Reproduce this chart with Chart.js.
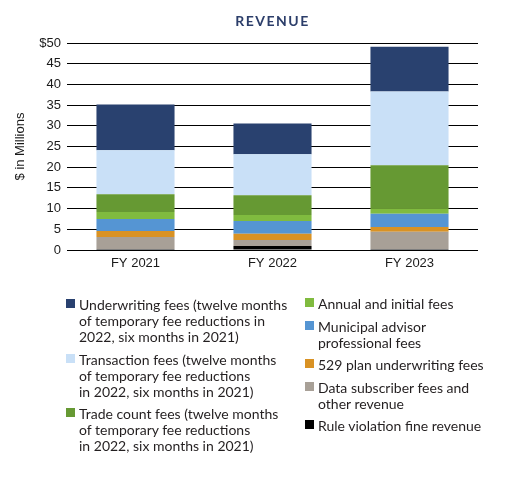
<!DOCTYPE html>
<html>
<head>
<meta charset="utf-8">
<script src="https://cdn.jsdelivr.net/npm/chart.js@4/dist/chart.umd.min.js"></script>
<style>
  html, body { margin: 0; padding: 0; background: #ffffff; }
  #wrap { position: relative; width: 508px; height: 477px; }
  #chart { position: absolute; left: 0; top: 0; }
  .col { position: absolute; font-family: Lato, "Noto Sans", sans-serif; font-size: 14px; line-height: 16px; color: #231f20; }
  .item { display: flex; align-items: flex-start; margin-bottom: 6.5px; }
  .sw { width: 9px; height: 9px; margin-top: 2px; margin-right: 4px; flex: none; }
</style>
</head>
<body>
<div id="wrap">
  <canvas id="chart" width="508" height="477"></canvas>
  <div id="legLeft" class="col" style="left:66px; top:297px;"></div>
  <div id="legRight" class="col" style="left:305px; top:296px;"></div>
</div>
<script>
const categories = ['FY 2021', 'FY 2022', 'FY 2023'];
const yTickLabels = ['0', '5', '10', '15', '20', '25', '30', '35', '40', '45', '$50'];

// Stack order bottom to top ($ in millions)
const ruleViolationFine = [0.24, 0.96, 0.24];
const dataSubscriberFees = [2.89, 1.45, 4.17];
const plan529Underwriting = [1.44, 1.52, 1.13];
const municipalAdvisorFees = [2.89, 3.05, 3.21];
const annualInitialFees = [1.69, 1.45, 1.36];
const tradeCountFees = [4.33, 4.81, 10.36];
const transactionFees = [10.6, 9.87, 17.81];
const underwritingFees = [11.07, 7.47, 10.84];

const seriesNames = [
  'Rule violation fine revenue',
  'Data subscriber fees and\nother revenue',
  '529 plan underwriting fees',
  'Municipal advisor\nprofessional fees',
  'Annual and initial fees',
  'Trade count fees (twelve months\nof temporary fee reductions\nin 2022, six months in 2021)',
  'Transaction fees (twelve months\nof temporary fee reductions\nin 2022, six months in 2021)',
  'Underwriting fees (twelve months\nof temporary fee reductions in\n2022, six months in 2021)'
];
const seriesColors = ['#000000', '#a8a097', '#d99224', '#5595d3', '#80bb3f', '#669933', '#c9e0f7', '#29416f'];
const seriesValues = [ruleViolationFine, dataSubscriberFees, plan529Underwriting, municipalAdvisorFees,
  annualInitialFees, tradeCountFees, transactionFees, underwritingFees];

const datasets = seriesValues.map((vals, i) => ({
  label: seriesNames[i],
  data: vals,
  backgroundColor: seriesColors[i],
  borderWidth: 0,
  barPercentage: 0.57,
  categoryPercentage: 1.0
}));

const htmlLegend = {
  id: 'htmlLegend',
  afterUpdate(chart) {
    const left = document.getElementById('legLeft');
    const right = document.getElementById('legRight');
    left.innerHTML = ''; right.innerHTML = '';
    const ds = chart.data.datasets.slice().reverse();
    ds.forEach((d, i) => {
      const item = document.createElement('div');
      item.className = 'item';
      const sw = document.createElement('span');
      sw.className = 'sw';
      sw.style.background = d.backgroundColor;
      const txt = document.createElement('span');
      d.label.split('\n').forEach((line, j) => {
        if (j > 0) txt.appendChild(document.createElement('br'));
        txt.appendChild(document.createTextNode(line));
      });
      item.appendChild(sw); item.appendChild(txt);
      (i < 3 ? left : right).appendChild(item);
    });
  }
};

const titleSpacing = {
  id: 'titleSpacing',
  beforeDraw(chart) {
    const tb = chart.titleBlock;
    if (tb && !tb._spaced) {
      const orig = tb.draw.bind(tb);
      tb.draw = function () {
        const ctx = chart.ctx;
        ctx.save();
        ctx.letterSpacing = '1.5px';
        orig();
        ctx.restore();
      };
      tb._spaced = true;
    }
  }
};

new Chart(document.getElementById('chart'), {
  type: 'bar',
  data: { labels: categories, datasets: datasets },
  plugins: [htmlLegend, titleSpacing],
  options: {
    responsive: false,
    animation: false,
    layout: { padding: { left: 0, right: 30, top: 0, bottom: 0 } },
    plugins: {
      legend: { display: false },
      tooltip: { enabled: false },
      title: {
        display: true,
        text: 'REVENUE',
        fullSize: false,
        color: '#2c3e6a',
        font: { family: 'Lato', size: 14, weight: 'bold', lineHeight: 1.2 },
        padding: { top: 13, bottom: 13.2 }
      }
    },
    scales: {
      x: {
        stacked: true,
        grid: { display: false, drawTicks: false },
        border: { display: false },
        ticks: { color: '#1a1a1a', font: { family: 'Liberation Sans', size: 13 }, padding: 6 },
        afterFit(scale) { scale.height = 227; }
      },
      y: {
        stacked: true,
        min: 0,
        max: 50,
        ticks: {
          stepSize: 5,
          color: '#1a1a1a',
          font: { family: 'Liberation Sans', size: 13 },
          padding: 6,
          callback: (v, i) => yTickLabels[i]
        },
        grid: { color: '#000000', lineWidth: 1, drawTicks: false },
        border: { display: false },
        title: {
          display: true,
          text: '$ in Millions',
          color: '#1a1a1a',
          font: { family: 'Liberation Sans', size: 13 },
          padding: { top: 13, bottom: 0 }
        },
        afterFit(scale) { scale.width = 67; }
      }
    }
  }
});
</script>
</body>
</html>
